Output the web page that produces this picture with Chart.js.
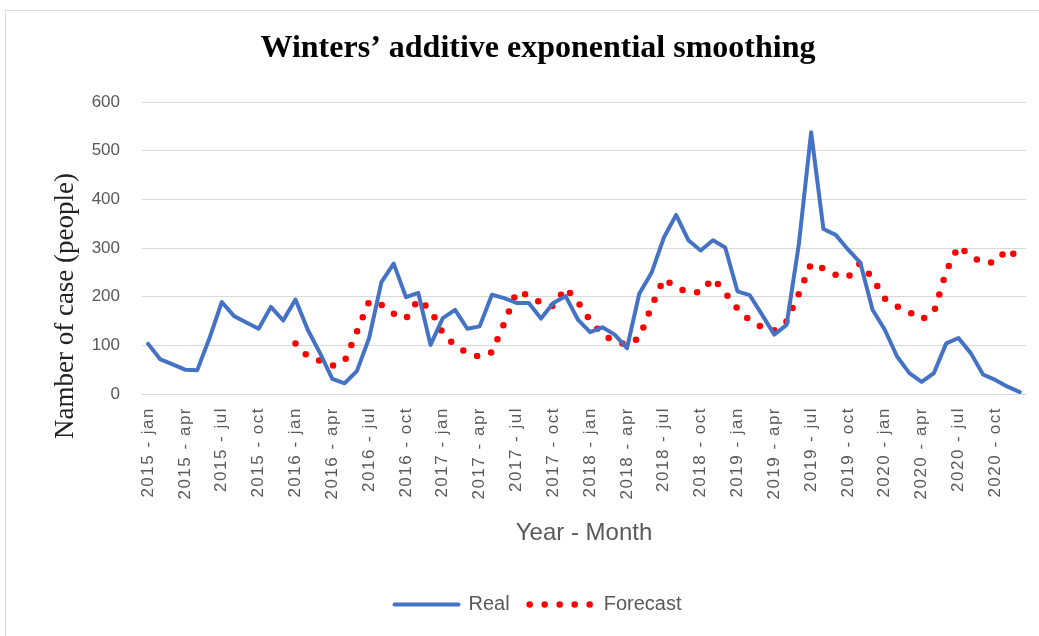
<!DOCTYPE html>
<html>
<head>
<meta charset="utf-8">
<script src="https://cdn.jsdelivr.net/npm/chart.js@4.4.0/dist/chart.umd.min.js"></script>
<style>
    html, body { margin: 0; padding: 0; background: #fff; overflow: hidden; }
    .frame { position: absolute; left: 5px; top: 10px; width: 1100px; height: 700px; border: 1px solid #d9d9d9; }
    #chart { position: absolute; left: 0; top: 0; }
</style>
</head>
<body>
<div class="frame"></div>
<canvas id="chart" width="1039" height="636"></canvas>
<script>
// Categories
const years = [2015, 2016, 2017, 2018, 2019, 2020];
const months = ['jan', 'feb', 'mar', 'apr', 'may', 'jun', 'jul', 'aug', 'sep', 'oct', 'nov', 'dec'];
const labels = years.flatMap(y => months.map(m => `${y} - ${m}`));
const labelStep = 3; // only every 3rd month gets a tick label

// Series values
const realCases = [
    103, 71, 61, 50, 49, 115, 189, 160, 147, 134, 179, 151,
    194, 132, 84, 31, 22, 47, 115, 230, 268, 199, 208, 101,
    156, 173, 134, 139, 204, 197, 187, 187, 155, 187, 201, 153,
    127, 137, 122, 94, 206, 249, 321, 368, 316, 295, 316, 301,
    211, 203, 163, 122, 142, 308, 538, 339, 327, 297, 270, 173,
    132, 77, 43, 25, 43, 104, 115, 84, 40, 29, 15, 4
];
const forecastCases = [
    null, null, null, null, null, null, null, null, null, null, null, null,
    104, 77, 68, 58, 67, 128, 190, 183, 165, 155, 194, 173,
    125, 99, 85, 76, 86, 145, 210, 203, 187, 180, 218, 189,
    151, 122, 108, 101, 115, 180, 237, 219, 209, 209, 238, 208,
    175, 151, 137, 131, 149, 206, 268, 258, 245, 240, 269, 238,
    196, 180, 168, 153, 168, 252, 304, 283, 270, 270, 298, 277
];

// Y axis ticks
const yMin = 0;
const yMax = 600;
const yStep = 100;

const grey = '#595959';

// spaced-out x tick labels (drawn on their own layer after the datasets)
const letterSpacingPlugin = {
    id: 'xLetterSpacing',
    beforeDraw(chart) { chart.ctx.letterSpacing = '0px'; },
    afterDatasetsDraw(chart) { chart.ctx.letterSpacing = '1.5px'; },
    afterDraw(chart) { chart.ctx.letterSpacing = '0px'; }
};

// y axis title sits lower than the plot centre in the original
const yTitlePlugin = {
    id: 'yTitle',
    afterDraw(chart) {
        const ctx = chart.ctx;
        ctx.save();
        ctx.translate(66, 306);
        ctx.rotate(-Math.PI / 2);
        ctx.font = '27px "Liberation Serif", "Times New Roman", serif';
        ctx.fillStyle = '#222';
        ctx.textAlign = 'center';
        ctx.textBaseline = 'middle';
        ctx.fillText('Namber of case (people)', 0, 0);
        ctx.restore();
    }
};

const ctx = document.getElementById('chart').getContext('2d');

new Chart(ctx, {
    type: 'line',
    data: {
        labels: labels,
        datasets: [
            {
                label: 'Real',
                data: realCases,
                borderColor: '#4472C4',
                backgroundColor: '#4472C4',
                borderWidth: 4,
                borderCapStyle: 'round',
                borderJoinStyle: 'round',
                pointRadius: 0,
                tension: 0,
                fill: false
            },
            {
                label: 'Forecast',
                data: forecastCases,
                borderColor: '#FF0000',
                backgroundColor: '#FF0000',
                borderWidth: 6.5,
                borderDash: [0, 15],
                borderCapStyle: 'round',
                pointRadius: 0,
                tension: 0,
                fill: false
            }
        ]
    },
    options: {
        responsive: false,
        animation: false,
        layout: {
            padding: { left: 50, right: 13, top: 0, bottom: 11.5 }
        },
        plugins: {
            title: {
                display: true,
                text: 'Winters’ additive exponential smoothing',
                color: '#000',
                font: { family: '"Liberation Serif", "Times New Roman", serif', size: 32, weight: 'bold' },
                padding: { top: 30, bottom: 33.6 }
            },
            legend: {
                position: 'bottom',
                labels: {
                    usePointStyle: true,
                    pointStyle: 'line',
                    pointStyleWidth: 64,
                    padding: 20,
                    color: grey,
                    font: { family: '"Liberation Sans", Arial, sans-serif', size: 20 },
                    // point style legend items lose the dash, put it back
                    generateLabels: (chart) => {
                        const items = Chart.defaults.plugins.legend.labels.generateLabels(chart);
                        items.forEach(item => {
                            const ds = chart.data.datasets[item.datasetIndex];
                            item.lineDash = ds.borderDash || [];
                            item.lineCap = 'round';
                            item.lineWidth = ds.borderWidth;
                            item.strokeStyle = ds.borderColor;
                        });
                        return items;
                    }
                }
            },
            tooltip: { enabled: false }
        },
        scales: {
            x: {
                offset: true,
                grid: { display: false, drawTicks: false },
                border: { display: false },
                ticks: {
                    autoSkip: false,
                    minRotation: 90,
                    maxRotation: 90,
                    padding: 13,
                    z: 1,
                    color: grey,
                    font: { family: '"Liberation Sans", Arial, sans-serif', size: 17 },
                    callback: function (value, index) {
                        return index % labelStep === 0 ? this.getLabelForValue(value) : '';
                    }
                },
                title: {
                    display: true,
                    text: 'Year - Month',
                    color: grey,
                    font: { family: '"Liberation Sans", Arial, sans-serif', size: 24 },
                    padding: { top: 0, bottom: 27.1 }
                },
                afterFit: (scale) => {
                    scale.height = 180.5;
                    scale.paddingLeft = 0;
                    scale.paddingRight = 0;
                }
            },
            y: {
                min: yMin,
                max: yMax,
                grid: { color: '#d9d9d9', lineWidth: 1, drawTicks: false },
                border: { display: false },
                ticks: {
                    stepSize: yStep,
                    padding: 22,
                    color: grey,
                    font: { family: '"Liberation Sans", Arial, sans-serif', size: 17 }
                },
                afterFit: (scale) => { scale.width = 92; }
            }
        }
    },
    plugins: [letterSpacingPlugin, yTitlePlugin]
});
</script>
</body>
</html>
